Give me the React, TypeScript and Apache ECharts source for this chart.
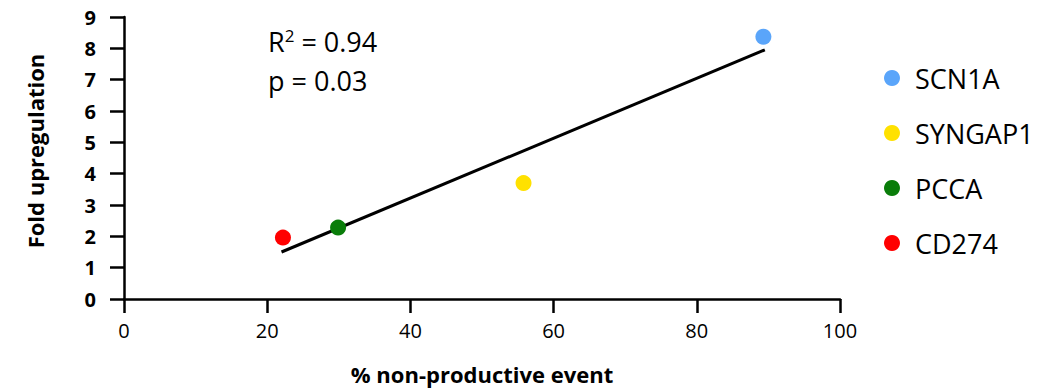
import React, { useEffect, useRef } from "react";
import * as echarts from "echarts";

const geneNames = ["SCN1A", "SYNGAP1", "PCCA", "CD274"];
const geneColors = ["#5aa5fa", "#ffe100", "#0a7d0a", "#ff0000"];
const nonProductivePct = [89.3, 55.8, 29.9, 22.2];
const foldUpregulation = [8.37, 3.7, 2.28, 1.96];
const fitLineX = [22, 89.5];
const fitLineY = [1.5, 7.95];
const xTicks = { min: 0, max: 100, interval: 20 };
const yTicks = { min: 0, max: 9, interval: 1 };
const annotR2 = "0.94";
const annotP = "0.03";

const FONT = "'Open Sans', 'Noto Sans', sans-serif";

export default function App() {
  const ref = useRef<HTMLDivElement>(null);
  useEffect(() => {
    if (!ref.current) return;
    const chart = echarts.init(ref.current, undefined, { renderer: "svg" });
    const scatterSeries = geneNames.map((name, i) => ({
      type: "scatter",
      name,
      data: [[nonProductivePct[i], foldUpregulation[i]]],
      symbol: "circle",
      symbolSize: 16,
      itemStyle: { color: geneColors[i], opacity: 1 },
      z: 3,
    }));
    chart.setOption({
      animation: false,
      backgroundColor: "#ffffff",
      textStyle: { fontFamily: FONT },
      grid: { left: 124, right: 223, top: 17, bottom: 89, containLabel: false },
      xAxis: {
        type: "value",
        min: xTicks.min,
        max: xTicks.max,
        interval: xTicks.interval,
        name: "% non-productive event",
        nameLocation: "middle",
        nameGap: 64,
        nameTextStyle: { fontSize: 22, fontWeight: "bold", color: "#000", fontFamily: FONT },
        axisLine: { show: true, lineStyle: { color: "#000", width: 2.5 } },
        axisTick: { show: true, length: 14, lineStyle: { color: "#000", width: 2.5 } },
        axisLabel: { fontSize: 20, color: "#000", margin: 21, fontFamily: FONT },
        splitLine: { show: false },
      },
      yAxis: {
        type: "value",
        min: yTicks.min,
        max: yTicks.max,
        interval: yTicks.interval,
        name: "Fold upregulation",
        nameLocation: "middle",
        nameGap: 78,
        nameRotate: 90,
        nameTextStyle: {
          fontSize: 22,
          fontWeight: "bold",
          color: "#000",
          fontFamily: FONT,
          padding: [0, 0, 0, 14],
        },
        axisLine: { show: true, onZero: false, lineStyle: { color: "#000", width: 2.5 } },
        axisTick: { show: true, length: 14, lineStyle: { color: "#000", width: 2.5 } },
        axisLabel: { fontSize: 20, fontWeight: "bold", color: "#000", margin: 28, fontFamily: FONT },
        splitLine: { show: false },
      },
      legend: {
        data: geneNames,
        orient: "vertical",
        left: 879,
        top: 57,
        itemWidth: 16,
        itemHeight: 16,
        itemGap: 23,
        icon: "circle",
        textStyle: { fontSize: 27, color: "#000", lineHeight: 32, fontFamily: FONT, padding: [0, 0, 0, 10] },
        selectedMode: false,
      },
      graphic: [
        {
          type: "text",
          left: 268,
          top: 27,
          style: {
            text: "R{sup|2} = " + annotR2,
            rich: {
              sup: { fontSize: 17, verticalAlign: "top", fontFamily: FONT, fill: "#000", padding: [0, 0, 12, 0] },
            },
            fontSize: 27,
            fontFamily: FONT,
            fill: "#000",
          },
        },
        {
          type: "text",
          left: 268,
          top: 67,
          style: { text: "p = " + annotP, fontSize: 27, fontFamily: FONT, fill: "#000" },
        },
      ],
      series: [
        {
          type: "line",
          name: "fit",
          data: fitLineX.map((x, i) => [x, fitLineY[i]]),
          showSymbol: false,
          symbol: "none",
          lineStyle: { color: "#000", width: 3 },
          z: 2,
        },
        ...scatterSeries,
      ],
    });
    return () => chart.dispose();
  }, []);
  return (
    <div
      ref={ref}
      style={{ position: "fixed", left: 0, top: 0, width: 1063, height: 390 }}
    />
  );
}
